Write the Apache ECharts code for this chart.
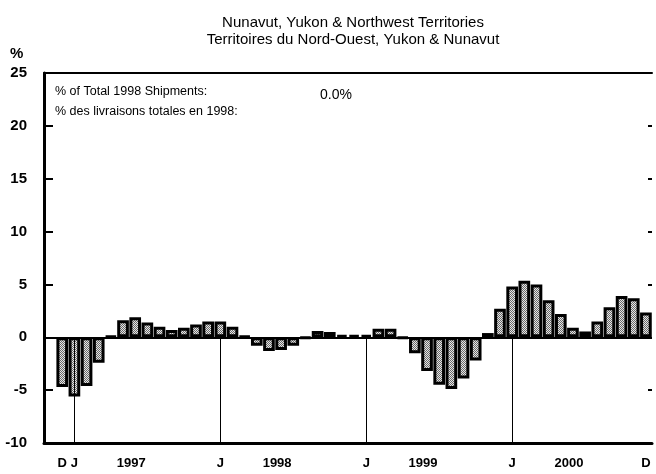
<!DOCTYPE html>
<html>
<head>
<meta charset="utf-8">
<script src="https://cdn.jsdelivr.net/npm/echarts@6/dist/echarts.min.js"></script>
<style>
  html, body { margin: 0; padding: 0; background: #fff; }
  #chart { width: 656px; height: 474px; }
</style>
</head>
<body>
<div id="chart"></div>
<script>
// months Nov 1996 .. Dec 2000 (first slot is empty)
var months = [
  '1996-11','1996-12',
  '1997-01','1997-02','1997-03','1997-04','1997-05','1997-06','1997-07','1997-08','1997-09','1997-10','1997-11','1997-12',
  '1998-01','1998-02','1998-03','1998-04','1998-05','1998-06','1998-07','1998-08','1998-09','1998-10','1998-11','1998-12',
  '1999-01','1999-02','1999-03','1999-04','1999-05','1999-06','1999-07','1999-08','1999-09','1999-10','1999-11','1999-12',
  '2000-01','2000-02','2000-03','2000-04','2000-05','2000-06','2000-07','2000-08','2000-09','2000-10','2000-11','2000-12'
];
// % change
var values = [
  null, -4.7,
  -5.6, -4.6, -2.4, 0.1, 1.6, 1.9, 1.4, 1.0, 0.7, 0.9, 1.2, 1.5,
  1.5, 1.0, 0.1, -0.8, -1.3, -1.2, -0.8, -0.1, 0.6, 0.5, 0.2, 0.2,
  0.2, 0.8, 0.8, -0.1, -1.5, -3.2, -4.5, -4.9, -3.9, -2.2, 0.4, 2.7,
  4.8, 5.35, 5.0, 3.5, 2.2, 0.9, 0.55, 1.5, 2.85, 3.9, 3.7, 2.35
];
var tickMonths = ['1996-12','1997-01','1997-06','1998-01','1998-06','1999-01','1999-06','2000-01','2000-06','2000-12'];
var tickText   = ['D','J','1997','J','1998','J','1999','J','2000','D'];
var janMonths  = ['1997-01','1998-01','1999-01','2000-01'];
var yTicks = { min: -10, max: 25, step: 5 };

// stippled grey fill like the printed chart
var pat = document.createElement('canvas');
pat.width = 2; pat.height = 2;
var pc = pat.getContext('2d');
pc.fillStyle = '#e6e6e6'; pc.fillRect(0, 0, 2, 2);
pc.fillStyle = '#6a6a6a'; pc.fillRect(0, 0, 1, 1); pc.fillRect(1, 1, 1, 1);

var FONT = '"Liberation Sans", Arial, sans-serif';

var chart = echarts.init(document.getElementById('chart'));
chart.setOption({
  backgroundColor: '#fff',
  animation: false,
  textStyle: { fontFamily: FONT, color: '#000' },
  title: {
    text: 'Nunavut, Yukon & Northwest Territories\nTerritoires du Nord-Ouest, Yukon & Nunavut',
    left: 348,
    top: 9,
    textAlign: 'center',
    textStyle: { fontFamily: FONT, fontSize: 15, fontWeight: 'normal', color: '#000', lineHeight: 17 }
  },
  graphic: [
    { type: 'text', left: 10, top: 46, style: { text: '%', font: 'bold 15px ' + FONT, fill: '#000' } },
    { type: 'text', left: 55, top: 85, style: { text: '% of Total 1998 Shipments:', font: '12.5px ' + FONT, fill: '#000' } },
    { type: 'text', left: 320, top: 88, style: { text: '0.0%', font: '14px ' + FONT, fill: '#000' } },
    { type: 'text', left: 55, top: 105, style: { text: '% des livraisons totales en 1998:', font: '12.5px ' + FONT, fill: '#000' } }
  ],
  grid: { left: 44, right: 4, top: 73, bottom: 31 },
  xAxis: [
    {
      type: 'category',
      data: months,
      axisLine: { onZero: false, lineStyle: { color: '#000', width: 3 } },
      axisTick: { show: false },
      axisLabel: {
        interval: 0,
        margin: 14,
        fontFamily: FONT,
        fontSize: 13,
        fontWeight: 'bold',
        color: '#000',
        formatter: function (v) {
          var i = tickMonths.indexOf(v);
          if (i < 0) return '';
          return tickText[i].length > 1 ? '{yr|' + tickText[i] + '}' : tickText[i];
        },
        rich: {
          yr: { fontFamily: FONT, fontSize: 13, fontWeight: 'bold', color: '#000', padding: [0, 8, 0, 0] }
        }
      }
    },
    {
      type: 'category',
      data: months,
      position: 'top',
      axisLine: { onZero: false, lineStyle: { color: '#000', width: 2 } },
      axisTick: { show: false },
      axisLabel: { show: false }
    }
  ],
  yAxis: [
    {
      type: 'value',
      min: yTicks.min,
      max: yTicks.max,
      interval: yTicks.step,
      axisLine: { show: true, lineStyle: { color: '#000', width: 3 } },
      axisTick: { show: true, inside: true, length: 9, lineStyle: { color: '#000', width: 2 } },
      splitLine: { show: false },
      axisLabel: { margin: 17, fontFamily: FONT, fontSize: 15, fontWeight: 'bold', color: '#000' }
    },
    {
      type: 'value',
      position: 'right',
      min: yTicks.min,
      max: yTicks.max,
      interval: yTicks.step,
      axisLine: { show: false },
      axisTick: { show: true, inside: true, length: 4, lineStyle: { color: '#000', width: 2 } },
      splitLine: { show: false },
      axisLabel: { show: false }
    }
  ],
  series: [
    {
      // January guide lines, drawn under the bars
      type: 'line',
      data: [],
      z: 1,
      silent: true,
      markLine: {
        symbol: 'none',
        silent: true,
        label: { show: false },
        lineStyle: { color: '#000', width: 1, type: 'solid' },
        data: janMonths.map(function (m) {
          return [{ coord: [m, yTicks.min] }, { coord: [m, 0] }];
        })
      }
    },
    {
      type: 'bar',
      data: values,
      z: 2,
      barCategoryGap: '4%',
      itemStyle: {
        color: { image: pat, repeat: 'repeat' },
        borderColor: '#000',
        borderWidth: 3
      },
      markLine: {
        symbol: 'none',
        silent: true,
        label: { show: false },
        lineStyle: { color: '#000', width: 2, type: 'solid' },
        data: [{ yAxis: 0 }]
      }
    }
  ]
});
</script>
</body>
</html>
